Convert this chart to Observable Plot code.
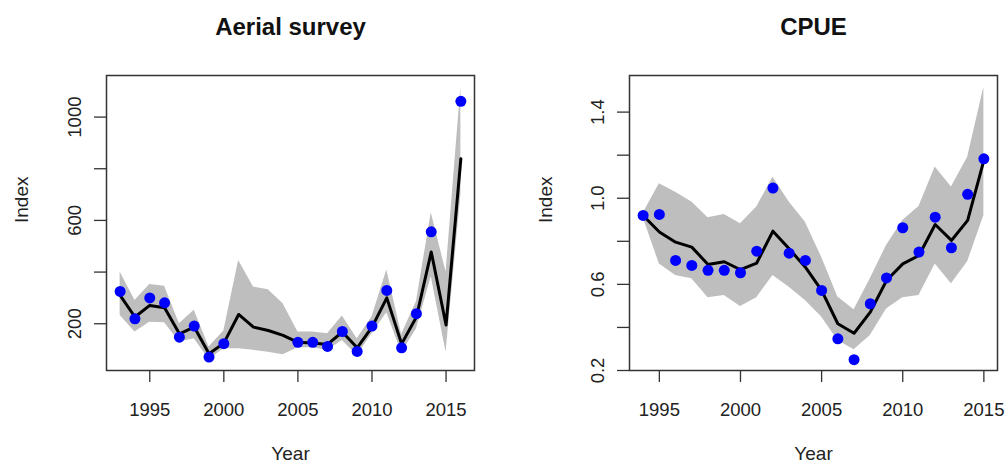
<!DOCTYPE html>
<html>
<head>
<meta charset="utf-8">
<script src="https://cdn.jsdelivr.net/npm/d3@7"></script>
<script src="https://cdn.jsdelivr.net/npm/@observablehq/plot@0.6"></script>
<style>
  html, body { margin: 0; padding: 0; background: #fff; }
  #wrap { position: relative; width: 1007px; height: 465px; overflow: hidden; }
  #left { position: absolute; left: 0; top: 0; }
  #right { position: absolute; left: 503px; top: 0; }
</style>
</head>
<body>
<div id="wrap"><div id="left"></div><div id="right"></div></div>
<script>
// ---------- Aerial survey ----------
const aerialYears = [1993,1994,1995,1996,1997,1998,1999,2000,2001,2002,2003,2004,2005,2006,2007,2008,2009,2010,2011,2012,2013,2014,2015,2016];
const aerialObs   = [325,219,300,281,148,191,71,123,null,null,null,null,128,128,112,170,93,191,329,107,239,556,null,1061];
const aerialFit   = [310,226,271,262,161,187,84,125,236,187,174,155,128,125,120,168,107,187,300,122,226,478,195,839];
const aerialLo    = [232,168,206,204,129,142,62,103,103,97,90,80,107,107,97,135,77,161,243,88,180,382,90,700];
const aerialHi    = [400,290,352,345,200,252,110,172,445,342,332,277,168,168,161,230,142,226,408,158,285,630,400,1116];
const aerialXTicks = [1995,2000,2005,2010,2015];
const aerialYTicks = [200,400,600,800,1000];
const aerialYLabels = [200,600,1000];

// ---------- CPUE ----------
const cpueYears = [1994,1995,1996,1997,1998,1999,2000,2001,2002,2003,2004,2005,2006,2007,2008,2009,2010,2011,2012,2013,2014,2015];
const cpueObs   = [0.92,0.925,0.711,0.688,0.665,0.665,0.654,0.754,1.047,0.745,0.711,0.572,0.347,0.25,0.51,0.63,0.863,0.75,0.912,0.77,1.018,1.183];
const cpueFit   = [0.92,0.843,0.796,0.773,0.692,0.705,0.668,0.699,0.847,0.765,0.68,0.572,0.417,0.373,0.471,0.618,0.695,0.734,0.878,0.804,0.897,1.176];
const cpueLo    = [0.91,0.695,0.641,0.626,0.538,0.548,0.497,0.538,0.641,0.587,0.525,0.448,0.339,0.296,0.363,0.486,0.538,0.548,0.695,0.603,0.705,0.92];
const cpueHi    = [0.93,1.067,1.028,0.982,0.909,0.925,0.881,0.959,1.098,0.982,0.889,0.726,0.541,0.482,0.626,0.781,0.897,0.962,1.145,1.052,1.19,1.516];
const cpueXTicks = [1995,2000,2005,2010,2015];
const cpueYTicks = [0.2,0.4,0.6,0.8,1.0,1.2,1.4];
const cpueYLabels = [0.2,0.6,1.0,1.4];

const FONT = "'Liberation Sans', Arial, Helvetica, sans-serif";
const BAND = "#bebebe";
const DOT = "#0000ff";

function table(years, obs, fit, lo, hi) {
  return years.map((year, i) => ({year, obs: obs[i], fit: fit[i], lo: lo[i], hi: hi[i]}));
}

function panel({data, title, width, marginLeft, marginRight, xDomain, yDomain, xTicks, yTicks, yLabels, yFmt, indexDx}) {
  return Plot.plot({
    width, height: 465,
    marginLeft, marginRight, marginTop: 75, marginBottom: 95,
    style: {fontFamily: FONT, color: "#222", background: "#fff", overflow: "visible"},
    x: {domain: xDomain},
    y: {domain: yDomain},
    marks: [
      Plot.areaY(data, {x: "year", y1: "lo", y2: "hi", fill: BAND, curve: "linear"}),
      Plot.line(data, {x: "year", y: "fit", stroke: "#000", strokeWidth: 3}),
      Plot.dot(data.filter(d => d.obs != null), {x: "year", y: "obs", r: 5.5, fill: DOT, stroke: "none"}),
      Plot.frame({stroke: "#333", strokeWidth: 1.5}),
      Plot.axisX({ticks: xTicks, tickSize: 12, tickPadding: 20, fontSize: 18.5, label: null,
                  tickFormat: d => String(d), stroke: "#333", strokeWidth: 1.3}),
      Plot.axisY({ticks: yTicks, tickSize: 12, tickRotate: -90, tickPadding: 14, fontSize: 18.5, label: null,
                  tickFormat: d => yLabels.includes(d) ? yFmt(d) : "", stroke: "#333", strokeWidth: 1.3}),
      Plot.text([title], {text: d => d, frameAnchor: "top", lineAnchor: "middle", dy: -48, fontSize: 24, fontWeight: "bold", fill: "#111"}),
      Plot.text(["Year"], {text: d => d, frameAnchor: "bottom", lineAnchor: "middle", dy: 83, fontSize: 19, fill: "#222"}),
      Plot.text(["Index"], {text: d => d, frameAnchor: "left", lineAnchor: "middle", dx: indexDx, rotate: -90, fontSize: 19, fill: "#222"})
    ]
  });
}

document.getElementById("left").appendChild(panel({
  data: table(aerialYears, aerialObs, aerialFit, aerialLo, aerialHi),
  title: "Aerial survey",
  width: 503, marginLeft: 106, marginRight: 29,
  xDomain: [1992.08, 2016.92], yDomain: [19, 1161],
  xTicks: aerialXTicks, yTicks: aerialYTicks, yLabels: aerialYLabels,
  yFmt: d => String(d), indexDx: -85
}));

document.getElementById("right").appendChild(panel({
  data: table(cpueYears, cpueObs, cpueFit, cpueLo, cpueHi),
  title: "CPUE",
  width: 504, marginLeft: 126, marginRight: 10,
  xDomain: [1993.16, 2015.84], yDomain: [0.2, 1.57],
  xTicks: cpueXTicks, yTicks: cpueYTicks, yLabels: cpueYLabels,
  yFmt: d => d.toFixed(1), indexDx: -84
}));
</script>
</body>
</html>
